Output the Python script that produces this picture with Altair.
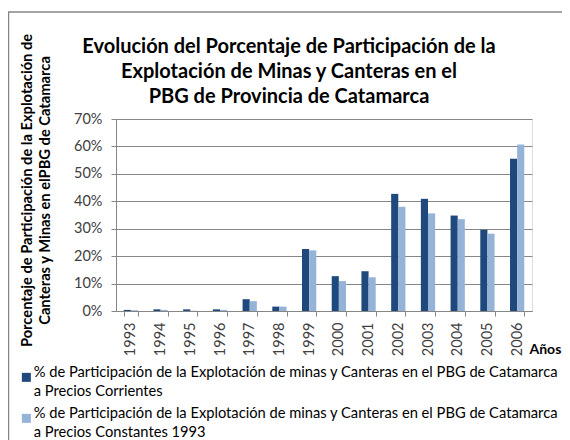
import altair as alt
import pandas as pd

years = ["1993", "1994", "1995", "1996", "1997", "1998", "1999",
         "2000", "2001", "2002", "2003", "2004", "2005", "2006"]
corrientes = [0.004, 0.006, 0.006, 0.006, 0.043, 0.016, 0.226,
              0.127, 0.145, 0.427, 0.409, 0.348, 0.296, 0.555]
constantes = [0.003, 0.004, 0.001, 0.004, 0.036, 0.016, 0.221,
              0.109, 0.123, 0.380, 0.356, 0.335, 0.282, 0.607]
series = [
    "% de Participación de la Explotación de minas y Canteras en el PBG de Catamarca|a Precios Corrientes",
    "% de Participación de la Explotación de minas y Canteras en el PBG de Catamarca|a Precios Constantes 1993",
]
colors = ["#1F497D", "#95B3D7"]
title_lines = ["Evolución del Porcentaje de Participación de la",
               "Explotación de Minas y Canteras en el",
               "PBG de Provincia de Catamarca"]
y_title = ["Porcentaje de Participación  de la Explotación de",
           "Canteras y Minas en elPBG de Catamarca"]
x_title = "Años"
y_ticks = [0, 0.1, 0.2, 0.3, 0.4, 0.5, 0.6, 0.7]

rows = []
for i, yr in enumerate(years):
    rows.append({"year": yr, "serie": series[0], "value": corrientes[i]})
    rows.append({"year": yr, "serie": series[1], "value": constantes[i]})
df = pd.DataFrame(rows)

FONT = "Lato"

bars = alt.Chart(df).mark_bar().encode(
    x=alt.X("year:N", sort=years,
            scale=alt.Scale(paddingInner=0.52, paddingOuter=0.26),
            axis=alt.Axis(title=x_title, labelAngle=270, labelPadding=6,
                          tickBand="extent", tickSize=5, domainColor="#868686",
                          tickColor="#868686", labelColor="#404040",
                          labelFont=FONT, labelFontSize=14.5,
                          titleFont=FONT, titleFontSize=14, titleFontWeight="bold",
                          titleColor="black", titleAlign="left",
                          titleBaseline="middle", titleX=413, titleY=38,
                          titleAngle=0)),
    xOffset=alt.XOffset("serie:N", sort=series, scale=alt.Scale(paddingInner=0, paddingOuter=0)),
    y=alt.Y("value:Q", scale=alt.Scale(domain=[0, 0.7], nice=False),
            axis=alt.Axis(values=y_ticks, format=".0%", title=y_title,
                          grid=True, gridColor="#868686", tickSize=5,
                          tickColor="#868686", domainColor="#868686",
                          labelPadding=9, labelColor="#404040",
                          labelFont=FONT, labelFontSize=14.5,
                          titleFont=FONT, titleFontSize=14.7, titleFontWeight="bold",
                          titleColor="black", titleAngle=270, titleAlign="center",
                          titleBaseline="bottom", titleLineHeight=18,
                          titleX=-82, titleY=71)),
    color=alt.Color("serie:N", sort=series,
                    scale=alt.Scale(domain=series, range=colors),
                    legend=alt.Legend(orient="none", legendX=-97, legendY=251,
                                      title=None, symbolType="square",
                                      symbolSize=81, symbolStrokeWidth=0,
                                      labelExpr="split(datum.label, '|')",
                                      labelFont=FONT, labelFontSize=14.7,
                                      labelColor="black", labelLimit=0,
                                      labelBaseline="alphabetic",
                                      labelOffset=0, rowPadding=6, padding=0,
                                      direction="vertical")),
)

frame = alt.Chart(pd.DataFrame({"k": [0]})).mark_rect(
    fill=None, stroke="#868686", strokeWidth=1.5
).encode(x=alt.value(-107.5), x2=alt.value(700), y=alt.value(-107), y2=alt.value(500))

chart = alt.layer(frame, bars).properties(
    width=416, height=192,
    title=alt.TitleParams(text=title_lines, anchor="middle", dx=-35, dy=107,
                          font=FONT, fontSize=20, fontWeight="bold",
                          lineHeight=25, offset=11, color="black"),
    autosize=alt.AutoSizeParams(type="none"),
    padding={"left": 108, "top": 111, "right": 30, "bottom": 135},
).configure_view(stroke=None).configure(
    style={"guide-label": {"lineHeight": 19}}
)

chart.save("out.html", embed_options={"renderer": "svg", "actions": False})
